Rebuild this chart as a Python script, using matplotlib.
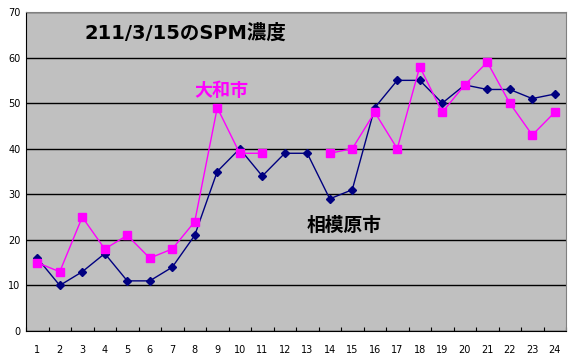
import matplotlib
matplotlib.use("Agg")
import matplotlib.pyplot as plt
import numpy as np

plt.rcParams["font.family"] = ["Noto Sans CJK JP", "DejaVu Sans"]

hours = list(range(1, 25))
sagamihara = [16, 10, 13, 17, 11, 11, 14, 21, 35, 40, 34, 39, 39, 29, 31, 49,
              55, 55, 50, 54, 53, 53, 51, 52]
yamato = [15, 13, 25, 18, 21, 16, 18, 24, 49, 39, 39, np.nan, np.nan, 39, 40, 48,
          40, 58, 48, 54, 59, 50, 43, 48]

fig = plt.figure(figsize=(5.71, 3.58), dpi=100)
ax = fig.add_axes([26 / 571, 1 - 331 / 358, 540 / 571, 319 / 358])
ax.set_facecolor("#C0C0C0")

ax.plot(hours, sagamihara, color="#000080", lw=1, marker="D", ms=4.5, zorder=3)
ax.plot(hours, yamato, color="#FF00FF", lw=1, marker="s", ms=5.5, zorder=4)

ax.set_xlim(0.5, 24.5)
ax.set_ylim(0, 70)
ax.set_yticks(range(0, 71, 10))
ax.yaxis.grid(True, color="black", lw=1)
ax.set_axisbelow(True)
ax.set_xticks(np.arange(0.5, 25, 1), minor=False)
ax.set_xticklabels([])
ax.set_xticks(hours, minor=True)
ax.set_xticklabels([str(h) for h in hours], minor=True)
ax.tick_params(axis="x", which="major", length=3, direction="in", color="black")
ax.tick_params(axis="x", which="minor", length=0, pad=10, labelsize=7)
ax.tick_params(axis="y", length=0, pad=4, labelsize=7)
for lab in ax.get_xticklabels(minor=True) + ax.get_yticklabels():
    lab.set_family("DejaVu Sans")

for s in ("top", "right"):
    ax.spines[s].set_color("#808080")
for s in ("left", "bottom"):
    ax.spines[s].set_color("black")

ax.text(0.108, 0.935, "211/3/15のSPM濃度", transform=ax.transAxes, fontsize=14,
        fontweight="bold", va="center", ha="left",
        family=["DejaVu Sans", "Noto Sans CJK JP"])
ax.text(0.312, 0.755, "大和市", transform=ax.transAxes, fontsize=13,
        fontweight="bold", color="#FF00FF", va="center", ha="left")
ax.text(0.52, 0.33, "相模原市", transform=ax.transAxes, fontsize=13.5,
        fontweight="bold", color="black", va="center", ha="left")

fig.savefig("out.png", dpi=100)
